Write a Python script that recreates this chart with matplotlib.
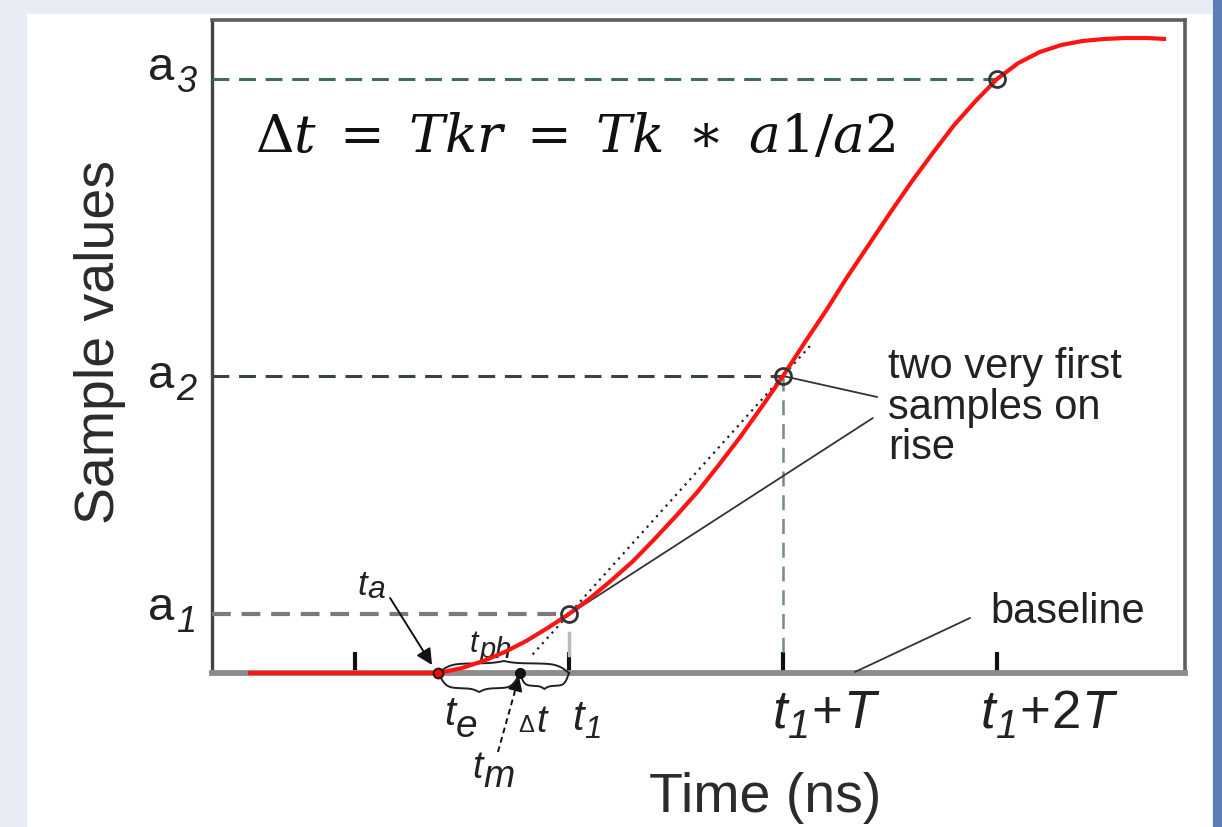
import numpy as np
import matplotlib
matplotlib.use("Agg")
import matplotlib.pyplot as plt
from matplotlib.patches import Rectangle
from matplotlib.transforms import blended_transform_factory

plt.rcParams['font.family'] = ['Liberation Sans', 'DejaVu Sans']

# ---------------- data (time in units of the sampling period T, t1 = 2) -------------
time = [0.50, 1.00, 1.30, 1.39, 1.50, 1.60, 1.70, 1.80, 1.90, 2.00,
        2.10, 2.20, 2.30, 2.40, 2.50, 2.60, 2.70, 2.80, 2.90, 3.00,
        3.10, 3.20, 3.30, 3.40, 3.50, 3.60, 3.70, 3.80, 3.90, 4.00,
        4.10, 4.20, 4.30, 4.40, 4.50, 4.60, 4.70, 4.79]
signal = [0, 0, 0, 0, 5, 12, 21, 32, 45, 59,
          75, 93, 112, 134, 157, 181, 208, 236, 266, 297,
          330, 362, 396, 428, 460, 491, 520, 548, 572, 594,
          610, 621, 628, 632, 634, 635, 635, 634]

sample_times = [2.0, 3.0, 4.0]
sample_values = [59, 297, 594]
sample_subscripts = ['1', '2', '3']          # y labels a1, a2, a3

tick_positions = [1.0, 2.0, 3.0, 4.0]
tick_labels = ['', 't1', 't1+T', 't1+2T']

t_e = 1.39   # start of pulse
t_m = 1.77   # extrapolated start (tangent crossing)

formula = r'$\Delta t\;=\;Tkr\;=\;Tk\;\ast\;a1/a2$'

# ---------------- figure ----------------
W, H = 1222, 827
fig = plt.figure(figsize=(W / 100, H / 100), dpi=100, facecolor='#e8edf5')
fig.patches.append(Rectangle((27 / W, 0), (1212 - 27) / W, (H - 14) / H,
                             transform=fig.transFigure, facecolor='white',
                             edgecolor='none', zorder=-10))
fig.patches.append(Rectangle((1213 / W, 0), 9 / W, 1, transform=fig.transFigure,
                             facecolor='#5b7fb5', edgecolor='none', zorder=-10))

ax = fig.add_axes([212 / W, 1 - 673 / H, (1185 - 212) / W, (673 - 20) / H])
ax.set_zorder(1)
ax.set_facecolor('none')
ax.set_xlim(1 + (212 - 355) / 214, 1 + (1185 - 355) / 214)
ax.set_ylim(0, 653)

for side, col, lw in [('left', '#444444', 2.4), ('top', '#5e5e5e', 2.6),
                      ('right', '#5e5e5e', 2.6), ('bottom', '#8c8c8c', 4.2)]:
    ax.spines[side].set_color(col)
    ax.spines[side].set_linewidth(lw)

ax.set_xticks(tick_positions)
ax.tick_params(axis='x', direction='in', length=15, width=3, color='#111111',
               labelbottom=False)
ax.set_yticks([])

# reference dashed lines
x0 = ax.get_xlim()[0]
ax.plot([x0, sample_times[2]], [sample_values[2]] * 2, color='#3f6e52', lw=2.2,
        dashes=(5.5, 3.2), zorder=3)
ax.plot([x0, sample_times[1]], [sample_values[1]] * 2, color='#3a443e', lw=2.2,
        dashes=(5.5, 3.2), zorder=3)
ax.plot([x0, sample_times[0]], [sample_values[0]] * 2, color='#7a7a7a', lw=3.0,
        dashes=(4.5, 2.6), zorder=3)
ax.plot([sample_times[1]] * 2, [sample_values[1], 20], color='#728f7e', lw=1.8,
        dashes=(6, 3.5), zorder=3)
ax.plot([sample_times[0]] * 2, [40, 18], color='#b5bdb9', lw=2.5, zorder=3)

# tangent (dotted) through the two first samples
slope = (sample_values[1] - sample_values[0]) / (sample_times[1] - sample_times[0])
tx = np.array([1.83, 3.14])
ax.plot(tx, sample_values[0] + (tx - sample_times[0]) * slope, color='#222222',
        lw=1.6, ls=(0, (1, 2.2)), zorder=4)

# pulse
ax.plot(time, signal, color='#ff1414', lw=3.0, zorder=5, clip_on=False,
        solid_capstyle='butt')
ax.plot(sample_times, sample_values, 'o', ms=11.5, mfc='none', mec='#333333',
        mew=2, zorder=6)
ax.plot([t_e], [0], 'o', ms=7, mfc='#e01010', mec='#401010', mew=1.5,
        zorder=7, clip_on=False)
ax.plot([t_m], [0], 'o', ms=7, color='#111111', zorder=7, clip_on=False)


def brace(x0, x1, y0, h, **kw):
    n = 201
    x = np.linspace(x0, x1, n)
    half = x[:n // 2 + 1]
    beta = 22 / (x1 - x0)
    s1 = 1 / (1 + np.exp(-beta * (half - half[0])))
    s2 = 1 / (1 + np.exp(-beta * (half - half[-1])))
    yh = 0.8 * (s1 - 0.5) * 2 + 0.2 * s2 * 2
    y = np.concatenate([yh, yh[-2::-1]])
    y = (y - y[0]) / (y.max() - y[0])
    ax.plot(x, y0 + h * y, clip_on=False, **kw)


bkw = dict(color='#222222', lw=1.4, zorder=4)
brace(t_e, sample_times[0], 0, 12, **bkw)
brace(t_e, t_m, 0, -19, **bkw)
brace(t_m, sample_times[0], 0, -16, **bkw)

# t_a arrow
ax.annotate('', xy=(1.36, 8), xytext=(1.164, 75), annotation_clip=False,
            arrowprops=dict(arrowstyle='-|>', color='#111111', lw=1.4,
                            mutation_scale=24, shrinkA=0, shrinkB=0))
# t_m dashed arrow
ax.plot([1.668, 1.745], [-79, -20], color='#111111', lw=1.4, ls=(0, (3, 2)),
        clip_on=False, zorder=4)
ax.annotate('', xy=(t_m - 0.004, -3), xytext=(1.745, -20), annotation_clip=False,
            arrowprops=dict(arrowstyle='-|>', color='#111111', lw=1.4,
                            mutation_scale=22, shrinkA=0, shrinkB=0))

# leader lines
lkw = dict(arrowstyle='-', color='#333333', lw=1.3, shrinkA=0, shrinkB=0)
ax.annotate('', xy=(sample_times[1], sample_values[1]), xytext=(3.44, 276),
            arrowprops=lkw)
ax.annotate('', xy=(sample_times[0] + 0.01, sample_values[0] + 1),
            xytext=(3.42, 255), arrowprops=lkw)
ax.annotate('', xy=(3.336, 1), xytext=(3.874, 55), arrowprops=lkw)

tc = '#222222'
ax.text(3.49, 326, 'two very first\nsamples on\nrise', fontsize=30, color=tc,
        ha='left', va='top', linespacing=1.02)
ax.text(3.967, 61, 'baseline', fontsize=30, color=tc, ha='left', va='center')

# ---------- labels with large, dropped subscripts ----------
renderer = fig.canvas.get_renderer()


def width_pts(s, fs, style):
    t = fig.text(0, 0, s, fontsize=fs, style=style)
    w = t.get_window_extent(renderer=renderer).width
    t.remove()
    return w * 72.0 / fig.dpi


def compound(x, y, parts, transform=None):
    """parts: (text, fontsize, style, drop in px, gap before in px)"""
    transform = transform or ax.transData
    off = 0.0
    for s, fs, style, drop, gap in parts:
        off += gap * 0.72
        ax.annotate(s, xy=(x, y), xycoords=transform,
                    xytext=(off, -drop * 0.72), textcoords='offset points',
                    fontsize=fs, style=style, ha='left', va='baseline',
                    color=tc, annotation_clip=False)
        off += width_pts(s, fs, style)


def t_sub(sub, fs, sfs, drop, gap=1):
    return [('t', fs, 'italic', 0, 0), (sub, sfs, 'italic', drop, gap)]


compound(1.009, 78, t_sub('a', 25, 23, 3))
compound(1.537, 21, t_sub('ph', 22, 21, 6))
compound(1.416, -52, t_sub('e', 29, 28, 12))
compound(1.762, -59, [('Δ', 17, 'normal', 0, 0), ('t', 27, 'italic', 0, 2)])
compound(1.547, -105, t_sub('m', 27, 27, 9))

# x tick labels  (t1 / t1+T / t1+2T), left edge relative to the tick
tick_dx = [0, 0.014, -0.047, -0.075]
tick_fs = [32, 30, 38, 38]
for xp, lab, dx, fs in zip(tick_positions, tick_labels, tick_dx, tick_fs):
    if not lab:
        continue
    parts = t_sub(lab[1], fs, fs * 0.75, 10 if fs > 32 else 8, gap=0.5)
    rest = lab[2:]
    if rest:
        parts.append(('+', fs, 'normal', 0, 1))
        if rest[1:-1]:
            parts.append((rest[1:-1], fs, 'normal', 0, 1))
        parts.append(('T', fs, 'italic', 0, 1))
    compound(xp + dx, -55 if fs > 32 else -57, parts)

# y labels a1, a2, a3
ytr = blended_transform_factory(ax.transAxes, ax.transData)
label_dy = [-6, -12, -1]
for yv, sub, dy in zip(sample_values, sample_subscripts, label_dy):
    compound(-0.0658, yv + dy, [('a', 34, 'normal', 0, 0),
                                (sub, 26, 'italic', 12, 2)], transform=ytr)

fig.text(100 / W, 1 - 342 / H, 'Sample values', rotation=90, fontsize=40,
         color='#2b2b2b', ha='center', va='center')
fig.text(765 / W, 1 - 798 / H, 'Time (ns)', fontsize=40, color='#2b2b2b',
         ha='center', va='center')

fig.text(255 / W, 1 - 152 / H, formula, fontsize=38.5, math_fontfamily='dejavuserif',
         color='#111111', ha='left', va='baseline')

fig.savefig('out.png', dpi=100, facecolor=fig.get_facecolor())
